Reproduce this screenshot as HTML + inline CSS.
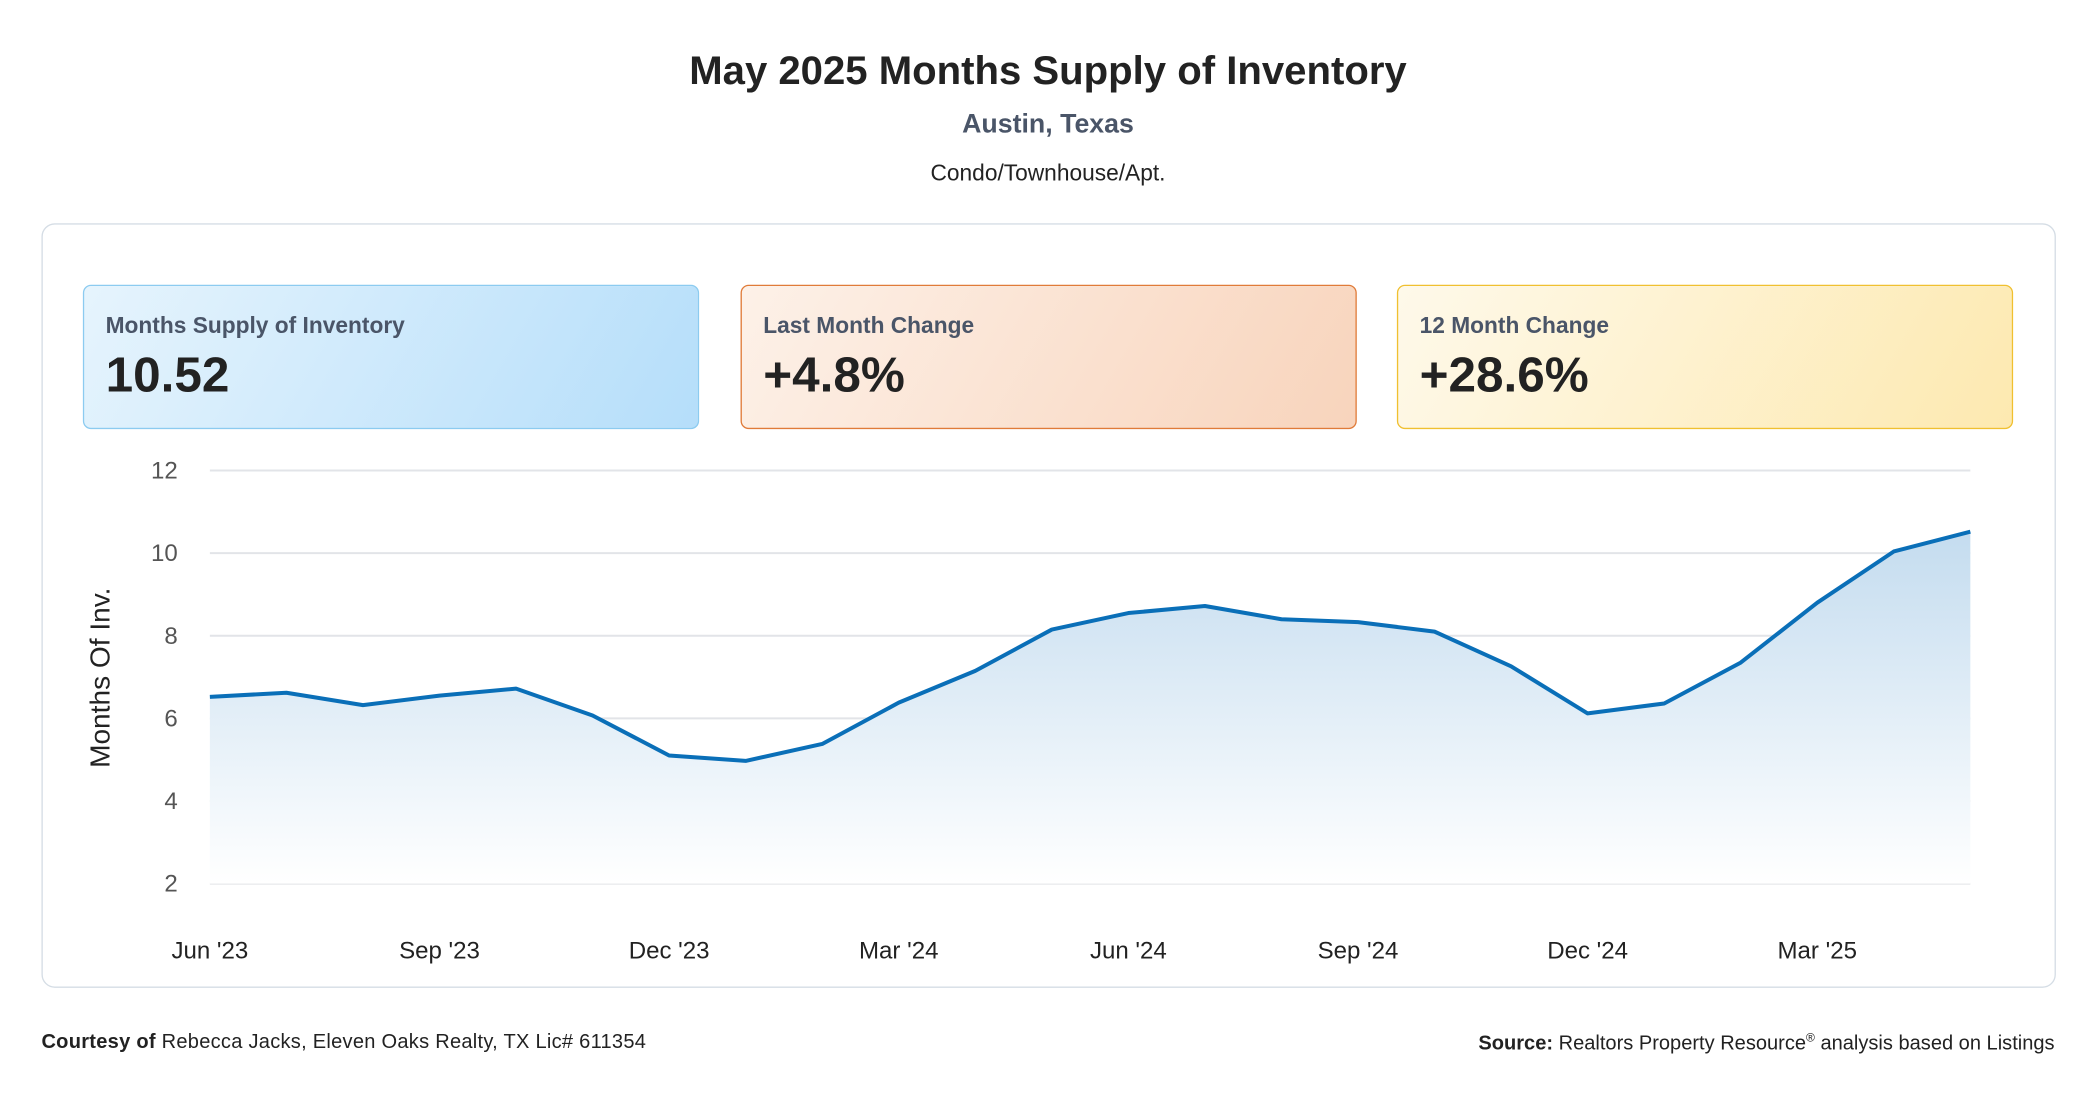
<!DOCTYPE html>
<html><head><meta charset="utf-8">
<style>
html,body{margin:0;padding:0;background:#fff;width:2096px;height:1100px;overflow:hidden}
#wrap{position:absolute;left:0;top:0;width:1568px;height:823px;transform:scale(1.33673);transform-origin:0 0;font-family:"Liberation Sans",sans-serif;color:#222}
.t{position:absolute;left:0;width:1568px;text-align:center}
.panel{position:absolute;left:31px;top:167px;width:1505px;height:570px;border:1px solid #d5dde5;border-radius:10px}
.card{position:absolute;top:213px;width:461px;height:108px;border-radius:6px;box-sizing:border-box}
.card .l{position:absolute;left:16px;top:20px;font-size:17px;font-weight:bold;color:#4a5568}
.card .v{position:absolute;left:16px;top:46px;font-size:37px;font-weight:bold;color:#222}
.foot{position:absolute;top:771px;font-size:15px;color:#222}
</style></head><body>
<div id="wrap">
<div class="t" style="top:37px;font-size:30px;font-weight:bold">May 2025 Months Supply of Inventory</div>
<div class="t" style="top:82px;font-size:20px;font-weight:bold;color:#4a5568">Austin, Texas</div>
<div class="t" style="top:120px;font-size:17px">Condo/Townhouse/Apt.</div>
<div class="panel"></div>
<div class="card" style="left:62px;border:1.5px solid #8ccbf0;background:linear-gradient(120deg,#e6f4fd,#b5defa)"><div class="l">Months Supply of Inventory</div><div class="v">10.52</div></div>
<div class="card" style="left:554px;border:1.5px solid #e07b39;background:linear-gradient(120deg,#fdf1e8,#f8d4bc)"><div class="l">Last Month Change</div><div class="v">+4.8%</div></div>
<div class="card" style="left:1045px;border:1.5px solid #f0c030;background:linear-gradient(120deg,#fef9ea,#fde9b0)"><div class="l">12 Month Change</div><div class="v">+28.6%</div></div>
<svg id="chart" style="position:absolute;left:0;top:0" width="1568" height="823">
<defs><linearGradient id="g" x1="0" y1="0" x2="0" y2="1"><stop offset="0" stop-color="#c4dcef"/><stop offset="1" stop-color="#ffffff"/></linearGradient></defs>
</svg>
<div class="foot" style="left:31px;letter-spacing:0.2px"><b>Courtesy of</b> Rebecca Jacks, Eleven Oaks Realty, TX Lic# 611354</div>
<div class="foot" style="right:31px"><b>Source:</b> Realtors Property Resource<sup style="font-size:9px">®</sup> analysis based on Listings</div>
</div>
<script>
const months=["Jun '23","Jul '23","Aug '23","Sep '23","Oct '23","Nov '23","Dec '23","Jan '24","Feb '24","Mar '24","Apr '24","May '24","Jun '24","Jul '24","Aug '24","Sep '24","Oct '24","Nov '24","Dec '24","Jan '25","Feb '25","Mar '25","Apr '25","May '25"];
const values=[6.52,6.62,6.32,6.55,6.72,6.07,5.1,4.97,5.38,6.38,7.15,8.15,8.55,8.72,8.4,8.33,8.1,7.26,6.12,6.36,7.35,8.8,10.04,10.52];
const yTicks=[2,4,6,8,10,12];
const xLabelIdx=[0,3,6,9,12,15,18,21];
const NS="http://www.w3.org/2000/svg";
const svg=document.getElementById('chart');
const x0=157,x1=1474,yTop=352,yBot=661,vMin=2,vMax=12;
const X=i=>x0+(x1-x0)*i/(months.length-1);
const Y=v=>yBot-(v-vMin)/(vMax-vMin)*(yBot-yTop);
function mk(t,a){const e=document.createElementNS(NS,t);for(const k in a)e.setAttribute(k,a[k]);svg.appendChild(e);return e;}
yTicks.forEach(v=>{
 const l=mk('line',{x1:x0,x2:x1,y1:Y(v),y2:Y(v),stroke:'#e2e4e8','stroke-width':1.5});
 
 
 const t=mk('text',{x:133,y:Y(v)+6,'text-anchor':'end','font-size':18,fill:'#555','font-family':'Liberation Sans, sans-serif'});
 t.textContent=v;
 
 
});
xLabelIdx.forEach(i=>{
 const t=mk('text',{x:X(i),y:717,'text-anchor':'middle','font-size':18,fill:'#222','font-family':'Liberation Sans, sans-serif'});
 t.textContent=months[i];
 
 
});
const yt=mk('text',{transform:'translate(82,507) rotate(-90)','text-anchor':'middle','font-size':21,fill:'#222','font-family':'Liberation Sans, sans-serif'});
yt.textContent='Months Of Inv.';


const pts=values.map((v,i)=>X(i)+','+Y(v)).join(' L');
const area=mk('path',{d:'M'+pts+' L'+X(values.length-1)+','+yBot+' L'+x0+','+yBot+' Z',fill:'url(#g)'});


const line=mk('path',{d:'M'+pts,fill:'none',stroke:'#0a6fb8','stroke-width':3,'stroke-linejoin':'round'});


</script>
</body></html>
